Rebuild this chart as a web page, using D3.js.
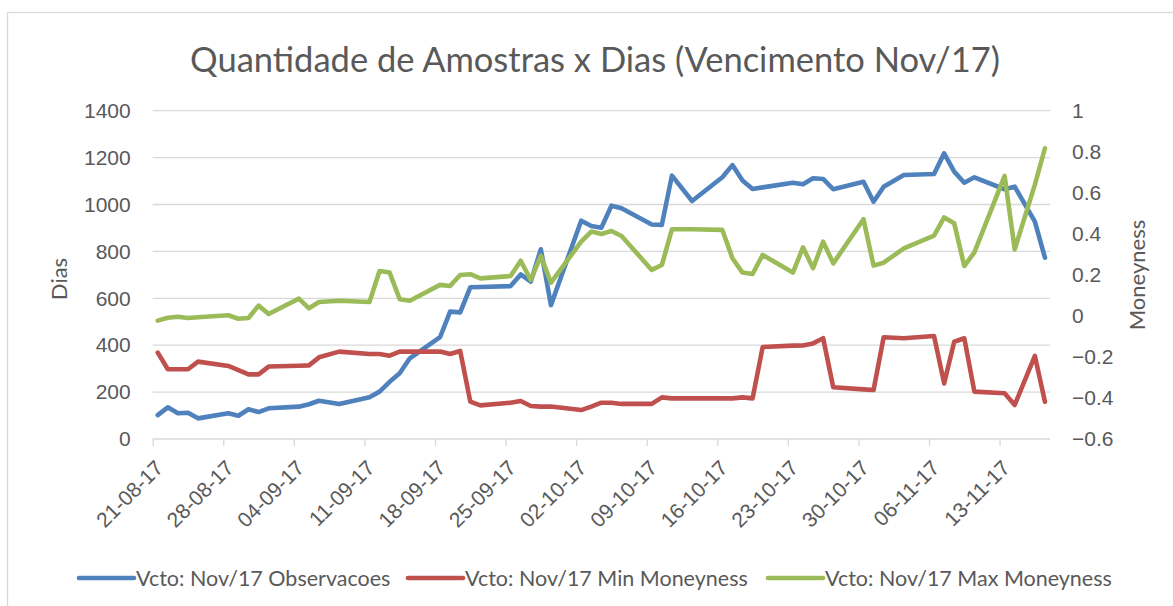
<!DOCTYPE html>
<html>
<head>
<meta charset="utf-8">
<script src="https://cdn.jsdelivr.net/npm/d3@7"></script>
<style>
  body { margin: 0; background: #fff; }
  svg { font-family: Lato, Carlito, 'Open Sans', sans-serif; }
  .grid line { stroke: #d9d9d9; stroke-width: 1.3; }
  .axis text { fill: #595959; font-size: 21px; }
  .axis path, .axis line { stroke: #d9d9d9; stroke-width: 1.3; }
</style>
</head>
<body>
<div id="chart"></div>
<script>
// trading days (dd-mm-yy)
let dates = [
  '21-08-17','22-08-17','23-08-17','24-08-17','25-08-17',
  '28-08-17','29-08-17','30-08-17','31-08-17','01-09-17',
  '04-09-17','05-09-17','06-09-17','08-09-17',
  '11-09-17','12-09-17','13-09-17','14-09-17','15-09-17',
  '18-09-17','19-09-17','20-09-17','21-09-17','22-09-17',
  '25-09-17','26-09-17','27-09-17','28-09-17','29-09-17',
  '02-10-17','03-10-17','04-10-17','05-10-17','06-10-17',
  '09-10-17','10-10-17','11-10-17','13-10-17',
  '16-10-17','17-10-17','18-10-17','19-10-17','20-10-17',
  '23-10-17','24-10-17','25-10-17','26-10-17','27-10-17',
  '30-10-17','31-10-17','01-11-17','03-11-17',
  '06-11-17','07-11-17','08-11-17','09-11-17','10-11-17',
  '13-11-17','14-11-17','16-11-17','17-11-17'
];

let observacoes = [
  102, 135, 110, 112, 88,
  110, 99, 127, 115, 131,
  138, 148, 163, 149,
  178, 202, 244, 280, 344,
  434, 543, 540, 647, 648,
  652, 702, 671, 809, 571,
  931, 908, 901, 995, 984,
  915, 913, 1123, 1015,
  1116, 1168, 1102, 1066, 1073,
  1093, 1086, 1112, 1109, 1065,
  1097, 1012, 1076, 1126,
  1130, 1218, 1140, 1093, 1116,
  1065, 1076, 927, 773
];

let minMoneyness = [
  -0.179, -0.260, -0.260, -0.260, -0.223,
  -0.244, -0.264, -0.285, -0.285, -0.247,
  -0.243, -0.241, -0.202, -0.174,
  -0.186, -0.186, -0.194, -0.174, -0.174,
  -0.174, -0.186, -0.171, -0.418, -0.436,
  -0.423, -0.415, -0.439, -0.442, -0.442,
  -0.459, -0.442, -0.423, -0.423, -0.429,
  -0.429, -0.397, -0.402, -0.402,
  -0.402, -0.402, -0.397, -0.402, -0.152,
  -0.145, -0.144, -0.134, -0.109, -0.348,
  -0.358, -0.361, -0.104, -0.109,
  -0.098, -0.329, -0.126, -0.109, -0.369,
  -0.377, -0.434, -0.195, -0.418
];

let maxMoneyness = [
  -0.023, -0.009, -0.004, -0.010, -0.007,
  0.003, -0.014, -0.010, 0.050, 0.009,
  0.084, 0.037, 0.068, 0.074,
  0.068, 0.219, 0.211, 0.081, 0.074,
  0.151, 0.146, 0.199, 0.203, 0.183,
  0.194, 0.269, 0.175, 0.292, 0.162,
  0.362, 0.411, 0.399, 0.414, 0.389,
  0.224, 0.248, 0.422, 0.422,
  0.419, 0.281, 0.211, 0.204, 0.297,
  0.211, 0.334, 0.232, 0.362, 0.256,
  0.471, 0.245, 0.259, 0.329,
  0.391, 0.480, 0.451, 0.243, 0.310,
  0.682, 0.324, 0.640, 0.817
];

let leftTicks = [0, 200, 400, 600, 800, 1000, 1200, 1400];
let rightTicks = [-0.6, -0.4, -0.2, 0, 0.2, 0.4, 0.6, 0.8, 1];

let seriesNames = ['Vcto: Nov/17 Observacoes', 'Vcto: Nov/17 Min Moneyness', 'Vcto: Nov/17 Max Moneyness'];
let colors = ['#4f81bd', '#c0504d', '#9bbb59'];

let W = 1173, H = 606;
let plot = { left: 152.7, right: 1050, top: 110.7, bottom: 439 };

let parse = d3.utcParse('%d-%m-%y');
let days = dates.map(parse);

let svg = d3.select('#chart').append('svg')
  .attr('width', W)
  .attr('height', H);

// chart frame
svg.append('rect')
  .attr('x', 7.5).attr('y', 12.5)
  .attr('width', 1200).attr('height', 700)
  .attr('fill', '#fff')
  .attr('stroke', '#d9d9d9')
  .attr('stroke-width', 1.3);

let xScale = d3.scaleUtc()
  .domain([parse('21-08-17'), parse('18-11-17')])
  .range([plot.left, plot.right]);

let yLeft = d3.scaleLinear().domain([0, 1400]).range([plot.bottom, plot.top]);
let yRight = d3.scaleLinear().domain([-0.6, 1]).range([plot.bottom, plot.top]);

// points sit in the middle of their day
let xPos = d => xScale(d3.utcHour.offset(d, 12));

// gridlines
svg.append('g')
  .attr('class', 'grid')
  .selectAll('line')
  .data(leftTicks.filter(t => t > 0))
  .join('line')
  .attr('x1', plot.left).attr('x2', plot.right)
  .attr('y1', d => yLeft(d)).attr('y2', d => yLeft(d));

// left axis
let gLeft = svg.append('g')
  .attr('class', 'axis')
  .attr('transform', `translate(${plot.left}, 0)`)
  .call(d3.axisLeft(yLeft).tickValues(leftTicks).tickSize(0).tickPadding(22).tickFormat(d3.format('d')));
gLeft.select('.domain').remove();

// right axis
let gRight = svg.append('g')
  .attr('class', 'axis')
  .attr('transform', `translate(${plot.right}, 0)`)
  .call(d3.axisRight(yRight).tickValues(rightTicks).tickSize(0).tickPadding(22).tickFormat(d => d3.format('')(+d.toFixed(1))));
gRight.select('.domain').remove();

// bottom axis
let gX = svg.append('g')
  .attr('class', 'axis')
  .attr('transform', `translate(0, ${plot.bottom})`)
  .call(d3.axisBottom(xScale)
    .ticks(d3.utcMonday.every(1))
    .tickSize(7)
    .tickSizeOuter(0)
    .tickFormat(d3.utcFormat('%d-%m-%y')));
gX.select('.domain').attr('d', `M${plot.left},0H${plot.right}`);
gX.selectAll('text')
  .attr('x', 0).attr('y', 0).attr('dy', '0.35em')
  .attr('text-anchor', 'end')
  .attr('transform', 'translate(6, 25) rotate(-45)');

// axis titles
svg.append('text')
  .attr('transform', 'translate(67, 279) rotate(-90)')
  .attr('text-anchor', 'middle')
  .attr('fill', '#595959')
  .style('font-size', '22px')
  .text('Dias');

svg.append('text')
  .attr('transform', 'translate(1145, 275) rotate(-90)')
  .attr('text-anchor', 'middle')
  .attr('fill', '#595959')
  .style('font-size', '22px')
  .text('Moneyness');

// title
svg.append('text')
  .attr('x', 595).attr('y', 72)
  .attr('text-anchor', 'middle')
  .attr('fill', '#595959')
  .style('font-size', '34.5px')
  .text('Quantidade de Amostras x Dias (Vencimento Nov/17)');

// lines
let series = [
  { values: observacoes, scale: yLeft },
  { values: minMoneyness, scale: yRight },
  { values: maxMoneyness, scale: yRight }
];

series.forEach((s, i) => {
  let line = d3.line()
    .x((d, j) => xPos(days[j]))
    .y(d => s.scale(d));
  svg.append('path')
    .datum(s.values)
    .attr('d', line)
    .attr('fill', 'none')
    .attr('stroke', colors[i])
    .attr('stroke-width', 4.6)
    .attr('stroke-linejoin', 'round')
    .attr('stroke-linecap', 'round');
});

// legend
let legendX = [79, 408, 768];
let legend = svg.append('g').attr('class', 'legend');
seriesNames.forEach((name, i) => {
  let g = legend.append('g').attr('transform', `translate(${legendX[i]}, 578)`);
  g.append('line')
    .attr('x1', 0).attr('x2', 55)
    .attr('stroke', colors[i])
    .attr('stroke-width', 4.6)
    .attr('stroke-linecap', 'round');
  g.append('text')
    .attr('x', 57).attr('dy', '0.35em')
    .attr('fill', '#595959')
    .style('font-size', '21.5px')
    .text(name);
});
</script>
</body>
</html>
